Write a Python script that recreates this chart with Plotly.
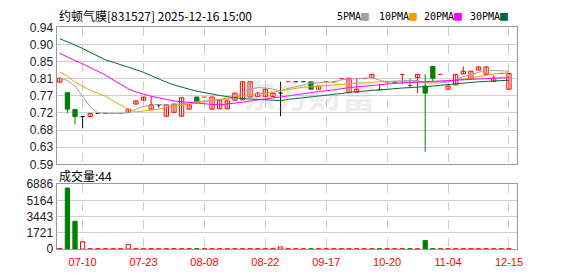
import plotly.graph_objects as go

# ---------------- data ----------------
x_labels = ["07-10", "07-23", "08-08", "08-22", "09-17", "10-20", "11-04", "12-15"]
x_label_idx = [3, 11, 19, 27, 35, 43, 51, 59]

opens = [0.800, 0.773, 0.730, 0.712, 0.712, 0.720, 0.720, 0.720, 0.720, 0.723,
         0.744, 0.754, 0.731, 0.742, 0.713, 0.723, 0.713, 0.731, 0.762, 0.762,
         0.731, 0.732, 0.732, 0.754, 0.755, 0.762, 0.763, 0.763, 0.763, 0.772,
         0.801, 0.801, 0.801, 0.801, 0.782, 0.801, 0.801, 0.809, 0.773, 0.774,
         0.809, 0.812, 0.781, 0.800, 0.800, 0.820, 0.791, 0.812, 0.790, 0.840,
         0.820, 0.782, 0.793, 0.821, 0.810, 0.831, 0.820, 0.802, 0.822, 0.782]
highs = [0.810, 0.773, 0.730, 0.712, 0.720, 0.720, 0.720, 0.720, 0.720, 0.731,
         0.752, 0.762, 0.763, 0.742, 0.742, 0.744, 0.760, 0.742, 0.762, 0.762,
         0.762, 0.754, 0.752, 0.772, 0.801, 0.801, 0.775, 0.782, 0.772, 0.801,
         0.801, 0.801, 0.801, 0.801, 0.790, 0.801, 0.801, 0.809, 0.810, 0.809,
         0.809, 0.820, 0.796, 0.800, 0.800, 0.820, 0.809, 0.820, 0.820, 0.840,
         0.820, 0.790, 0.820, 0.840, 0.828, 0.839, 0.839, 0.818, 0.822, 0.822]
lows = [0.800, 0.721, 0.692, 0.682, 0.712, 0.720, 0.720, 0.720, 0.720, 0.723,
        0.744, 0.754, 0.731, 0.735, 0.713, 0.723, 0.713, 0.731, 0.746, 0.762,
        0.731, 0.732, 0.732, 0.754, 0.755, 0.762, 0.763, 0.763, 0.763, 0.713,
        0.801, 0.801, 0.801, 0.782, 0.782, 0.801, 0.801, 0.809, 0.773, 0.774,
        0.809, 0.809, 0.781, 0.800, 0.800, 0.795, 0.788, 0.772, 0.622, 0.803,
        0.820, 0.782, 0.793, 0.821, 0.810, 0.831, 0.820, 0.802, 0.822, 0.782]
closes = [0.810, 0.731, 0.712, 0.712, 0.720, 0.720, 0.720, 0.720, 0.720, 0.731,
          0.752, 0.762, 0.742, 0.742, 0.742, 0.744, 0.760, 0.742, 0.751, 0.762,
          0.762, 0.754, 0.752, 0.772, 0.801, 0.801, 0.772, 0.782, 0.772, 0.772,
          0.801, 0.801, 0.801, 0.782, 0.790, 0.801, 0.801, 0.809, 0.810, 0.782,
          0.809, 0.820, 0.781, 0.800, 0.800, 0.820, 0.791, 0.820, 0.772, 0.810,
          0.820, 0.790, 0.820, 0.828, 0.828, 0.839, 0.839, 0.810, 0.822, 0.822]
# r = up (red hollow), g = down (green), k = flat (black)
colors = ["r", "g", "g", "k", "r", "k", "k", "r", "r", "r",
          "r", "r", "r", "k", "r", "r", "r", "r", "g", "r",
          "r", "r", "r", "r", "r", "r", "r", "r", "r", "k",
          "r", "k", "k", "g", "r", "r", "r", "r", "r", "r",
          "r", "r", "g", "r", "k", "r", "g", "r", "g", "g",
          "r", "r", "r", "r", "r", "r", "r", "r", "r", "r"]
volumes = [60, 6480, 2950, 780, 40, 40, 40, 40, 40, 470,
           40, 40, 40, 30, 40, 40, 40, 40, 40, 40,
           40, 40, 40, 40, 40, 40, 40, 40, 40, 230,
           40, 30, 30, 40, 40, 40, 40, 40, 40, 40,
           40, 40, 40, 40, 30, 40, 40, 40, 900, 60,
           40, 40, 40, 40, 40, 40, 40, 40, 40, 44]

ma5 = [0.811, 0.804, 0.790, 0.765, 0.737, 0.721, 0.720, 0.720, 0.720, 0.722,
       0.731, 0.738, 0.741, 0.743, 0.740, 0.742, 0.744, 0.747, 0.750, 0.752,
       0.754, 0.755, 0.755, 0.762, 0.772, 0.782, 0.786, 0.785, 0.782, 0.778,
       0.784, 0.788, 0.793, 0.798, 0.798, 0.800, 0.800, 0.806, 0.808, 0.809,
       0.810, 0.812, 0.805, 0.801, 0.803, 0.804, 0.804, 0.804, 0.798, 0.798,
       0.798, 0.800, 0.806, 0.814, 0.820, 0.826, 0.831, 0.830, 0.829, 0.828]
ma10 = [0.826, 0.815, 0.800, 0.789, 0.779, 0.772, 0.764, 0.752, 0.741, 0.731,
        0.724, 0.726, 0.729, 0.731, 0.735, 0.738, 0.741, 0.744, 0.747, 0.750,
        0.754, 0.757, 0.759, 0.762, 0.765, 0.768, 0.771, 0.772, 0.775, 0.778,
        0.781, 0.784, 0.787, 0.788, 0.790, 0.791, 0.793, 0.794, 0.796, 0.797,
        0.798, 0.800, 0.801, 0.801, 0.801, 0.800, 0.800, 0.800, 0.800, 0.800,
        0.801, 0.803, 0.805, 0.807, 0.810, 0.814, 0.818, 0.821, 0.823, 0.824]
ma20 = [0.874, 0.864, 0.855, 0.847, 0.838, 0.829, 0.818, 0.806, 0.794, 0.783,
        0.775, 0.769, 0.764, 0.760, 0.756, 0.752, 0.750, 0.748, 0.747, 0.745,
        0.743, 0.742, 0.744, 0.746, 0.749, 0.752, 0.755, 0.758, 0.760, 0.762,
        0.765, 0.768, 0.771, 0.773, 0.776, 0.778, 0.780, 0.783, 0.786, 0.788,
        0.789, 0.791, 0.793, 0.795, 0.797, 0.798, 0.799, 0.800, 0.801, 0.802,
        0.803, 0.804, 0.805, 0.806, 0.807, 0.808, 0.809, 0.810, 0.811, 0.812]
ma30 = [0.911, 0.904, 0.895, 0.886, 0.877, 0.866, 0.857, 0.851, 0.845, 0.838,
        0.832, 0.825, 0.816, 0.808, 0.800, 0.793, 0.787, 0.782, 0.777, 0.773,
        0.769, 0.766, 0.763, 0.760, 0.758, 0.757, 0.756, 0.755, 0.754, 0.753,
        0.756, 0.758, 0.760, 0.762, 0.764, 0.766, 0.768, 0.771, 0.774, 0.776,
        0.778, 0.779, 0.780, 0.782, 0.784, 0.785, 0.786, 0.787, 0.788, 0.790,
        0.792, 0.794, 0.796, 0.798, 0.800, 0.801, 0.802, 0.803, 0.804, 0.805]

price_ticks = [0.59, 0.63375, 0.6775, 0.72125, 0.765, 0.80875, 0.8525, 0.89625, 0.94]
price_labels = ["0.59", "0.63", "0.68", "0.72", "0.77", "0.81", "0.85", "0.90", "0.94"]
vol_ticks = [0, 1721.5, 3443, 5164.5, 6886]
vol_labels = ["0", "1721", "3443", "5164", "6886"]

title_text = "约顿气膜[831527] 2025-12-16 15:00"
vol_title = "成交量:44"
ma_names = ["5PMA", "10PMA", "20PMA", "30PMA"]

# ---------------- styles ----------------
W, H = 578, 276
RED, GREEN, BLACK = "#ff0000", "#008000", "#000000"
MA_COLORS = ["#a0a0a0", "#f0a000", "#ff00ff", "#006a30"]
LEGEND_X = [338, 380, 426, 472]   # left pixel of each legend label
BODY_W = 0.56
col_map = {"r": RED, "g": GREEN, "k": BLACK}

x_dom = [57 / W, 522 / W]
y_price = [1 - 165.7 / H, 1 - 21.5 / H]
y_vol = [1 - 255 / H, 1 - 186.7 / H]

idx = list(range(len(opens)))
fig = go.Figure()

# wicks
for c in ["r", "g", "k"]:
    xs, ys = [], []
    for i in idx:
        if colors[i] == c and highs[i] > lows[i]:
            xs += [i, i, None]
            ys += [lows[i], highs[i], None]
    if xs:
        fig.add_trace(go.Scatter(x=xs, y=ys, mode="lines", line=dict(color=col_map[c], width=1),
                                 hoverinfo="skip", xaxis="x", yaxis="y"))

# bodies
for c in ["r", "g", "k"]:
    bx, bb, bh = [], [], []
    dx, dy = [], []
    for i in idx:
        if colors[i] != c:
            continue
        lo, hi = min(opens[i], closes[i]), max(opens[i], closes[i])
        if hi - lo > 1e-9:
            bx.append(i); bb.append(lo); bh.append(hi - lo)
        else:
            dx += [i - BODY_W / 2, i + BODY_W / 2, None]
            dy += [lo, lo, None]
    if bx:
        fill = "white" if c == "r" else col_map[c]
        fig.add_trace(go.Bar(x=bx, y=bh, base=bb, width=BODY_W,
                             marker=dict(color=fill, line=dict(color=col_map[c], width=1)),
                             xaxis="x", yaxis="y", hoverinfo="skip"))
    if dx:
        fig.add_trace(go.Scatter(x=dx, y=dy, mode="lines", line=dict(color=col_map[c], width=1),
                                 hoverinfo="skip", xaxis="x", yaxis="y"))

# moving averages
for name, vals, col in zip(ma_names, [ma5, ma10, ma20, ma30], MA_COLORS):
    fig.add_trace(go.Scatter(x=idx, y=vals, mode="lines", name=name,
                             line=dict(color=col, width=1), xaxis="x", yaxis="y"))

# volume bars
vr = [i for i in idx if colors[i] != "g"]
vg = [i for i in idx if colors[i] == "g"]
fig.add_trace(go.Bar(x=vr, y=[volumes[i] for i in vr], width=BODY_W,
                     marker=dict(color="white", line=dict(color=RED, width=1)),
                     xaxis="x", yaxis="y2"))
fig.add_trace(go.Bar(x=vg, y=[volumes[i] for i in vg], width=BODY_W,
                     marker=dict(color=GREEN, line=dict(color=GREEN, width=1)),
                     xaxis="x", yaxis="y2"))

axis_font = dict(family="Liberation Sans, Arial", size=12, color="#1a1a2a")
fig.update_layout(
    width=W, height=H, margin=dict(l=0, r=0, t=0, b=0),
    paper_bgcolor="white", plot_bgcolor="white", showlegend=False, barmode="overlay",
    xaxis=dict(domain=x_dom, range=[-0.43, 60.12], anchor="y2",
               tickmode="array", tickvals=x_label_idx, ticktext=x_labels,
               tickfont=dict(family="Liberation Sans, Arial", size=11, color=RED),
               showgrid=True, gridcolor="#cccccc", griddash="dash", gridwidth=1,
               showline=True, linecolor="#999999", linewidth=1, mirror="all",
               zeroline=False, ticks="", ticklabelstandoff=3),
    yaxis=dict(domain=y_price, range=[0.59, 0.94], tickmode="array",
               tickvals=price_ticks, ticktext=price_labels, tickfont=axis_font,
               showgrid=True, gridcolor="#d0d0d0", gridwidth=1, zeroline=False,
               showline=True, linecolor="#999999", linewidth=1, mirror=True, ticks="",
               anchor="x"),
    yaxis2=dict(domain=y_vol, range=[0, 6886], tickmode="array",
                tickvals=vol_ticks, ticktext=vol_labels, tickfont=axis_font,
                showgrid=True, gridcolor="#d0d0d0", gridwidth=1, zeroline=False,
                showline=True, linecolor="#999999", linewidth=1, mirror=True, ticks="",
                anchor="x"),
)

fig.add_annotation(xref="paper", yref="paper", x=57 / W, y=1 - 9 / H, xanchor="left", yanchor="middle",
                   text=title_text, showarrow=False,
                   font=dict(family="Noto Sans CJK SC", size=12, color="#000"))
for name, col, lx in zip(ma_names, MA_COLORS, LEGEND_X):
    fig.add_annotation(xref="paper", yref="paper", x=lx / W, y=1 - 9 / H, xanchor="left", yanchor="middle",
                       text=f"{name}<span style='color:{col};font-size:13px'>■</span>", showarrow=False,
                       font=dict(family="DejaVu Sans Mono", size=10, color="#000"))
fig.add_annotation(xref="paper", yref="paper", x=57 / W, y=1 - 178 / H, xanchor="left", yanchor="middle",
                   text=vol_title, showarrow=False,
                   font=dict(family="Noto Sans CJK SC", size=12, color="#000"))
fig.add_annotation(xref="paper", yref="paper", x=312 / W, y=1 - 92 / H, xanchor="center", yanchor="middle",
                   text="<b>东方财富</b>", showarrow=False, opacity=0.22,
                   font=dict(family="Noto Sans CJK SC", size=33, color="#b0b0bc"))

fig.write_html("out.html")
